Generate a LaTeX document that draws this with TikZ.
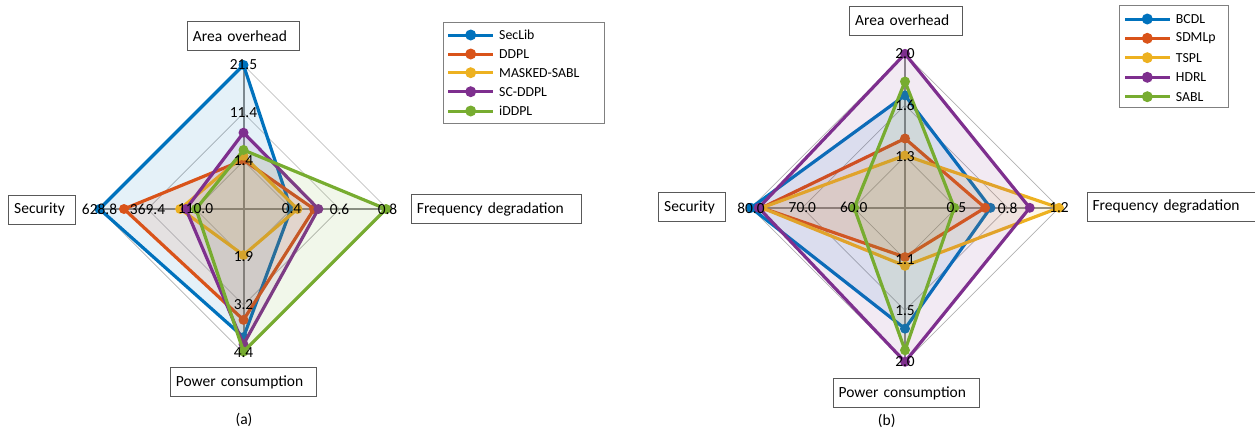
\documentclass[tikz,border=0pt]{standalone}
\usepackage{fontspec}
\setmainfont{Carlito}
\definecolor{serblue}{RGB}{0, 114, 189}
\definecolor{serorange}{RGB}{217, 83, 25}
\definecolor{seryellow}{RGB}{237, 177, 32}
\definecolor{serpurple}{RGB}{126, 47, 142}
\definecolor{sergreen}{RGB}{119, 172, 48}
\usetikzlibrary{positioning}

% rings at 1/3, 2/3 and 1, plus the two axes
\newcommand{\spidergrid}{%
  \draw[ring] (0,1/3) -- (1/3,0) -- (0,-1/3) -- (-1/3,0) -- cycle;
  \draw[ring] (0,2/3) -- (2/3,0) -- (0,-2/3) -- (-2/3,0) -- cycle;
  \draw[ring] (0,1) -- (1,0) -- (0,-1) -- (-1,0) -- cycle;
  \draw[spoke] (0,1) -- (0,-1);
  \draw[spoke] (-1,0) -- (1,0);
}
% colour, area, frequency, power, security
\newcommand{\spiderserie}[5]{%
  \filldraw[serie, draw=#1, fill=#1] (0,#2) -- (#3,0) -- (0,-#4) -- (-#5,0) -- cycle;
  \fill[#1] (0,#2) circle (5pt) (#3,0) circle (5pt) (0,-#4) circle (5pt) (-#5,0) circle (5pt);
}

\begin{document}
\begin{tikzpicture}[
  x=1pt, y=-1pt,
  ring/.style={draw=black!30, line width=0.7pt},
  spoke/.style={draw=black!45, line width=2pt},
  serie/.style={line width=3.2pt, fill opacity=0.1, draw opacity=1},
  tick/.style={inner sep=0pt, font=\fontsize{15.4}{18}\selectfont},
  axbox/.style={draw=black!65, line width=0.8pt, anchor=west, align=left, minimum height=29pt, inner xsep=5.5pt, font=\fontsize{15.5}{18}\selectfont},
  legbox/.style={draw=black!50, line width=0.8pt, anchor=north west},
  legline/.style={line width=3pt},
  legtext/.style={anchor=west, inner sep=0pt, font=\fontsize{13.8}{16}\selectfont},
  caption/.style={font=\fontsize{15.5}{18}\selectfont}
]
  \useasboundingbox (0,0) rectangle (1255,432);

  % (a)
  \begin{scope}[shift={(243.5,209)}, x=144pt, y=144pt]
    \spidergrid
    \spiderserie{serblue}{1.00}{0.33}{0.89}{1.00}
    \spiderserie{serorange}{0.34}{0.49}{0.77}{0.83}
    \spiderserie{seryellow}{0.37}{0.375}{0.32}{0.44}
    \spiderserie{serpurple}{0.53}{0.52}{0.94}{0.40}
    \spiderserie{sergreen}{0.41}{0.99}{0.99}{0.33}
    \node[tick] (a-area1) at (0,1/3) {1.4};
    \node[tick] (a-area2) at (0,2/3) {11.4};
    \node[tick] (a-area3) at (0,1) {21.5};
    \node[tick] (a-freq1) at (1/3,0) {0.4};
    \node[tick] (a-freq2) at (2/3,0) {0.6};
    \node[tick] (a-freq3) at (1,0) {0.8};
    \node[tick] (a-pow1) at (0,-1/3) {1.9};
    \node[tick] (a-pow2) at (0,-2/3) {3.2};
    \node[tick] (a-pow3) at (0,-1) {4.4};
    \node[tick] (a-sec1) at (-1/3,0) {110.0};
    \node[tick] (a-sec2) at (-2/3,0) {369.4};
    \node[tick] (a-sec3) at (-1,0) {628.8};
  \end{scope}
  \node[axbox, text width=101pt] (a-area) at (187,36.3) {Area overhead};
  \node[axbox, text width=56pt] (a-sec) at (8.3,209.5) {Security};
  \node[axbox, text width=135pt] (a-pow) at (170,382.2) {Power consumption};
  \node[axbox, text width=159pt] (a-freq) at (411,209.2) {Frequency degradation};
  \node[caption] (cap-a) at (244,420) {(a)};

  \node[legbox, minimum width=161pt, minimum height=101pt] (leg-a) at (442.7,21.7) {};
  \draw[legline, serblue] (448,35) -- (493,35);
  \fill[serblue] (470.7,35) circle (5.5pt);
  \node[legtext] (leg-a1) at (499,35) {SecLib};
  \draw[legline, serorange] (448,54) -- (493,54);
  \fill[serorange] (470.7,54) circle (5.5pt);
  \node[legtext] (leg-a2) at (499,54) {DDPL};
  \draw[legline, seryellow] (448,72.7) -- (493,72.7);
  \fill[seryellow] (470.7,72.7) circle (5.5pt);
  \node[legtext] (leg-a3) at (499,72.7) {MASKED-SABL};
  \draw[legline, serpurple] (448,91.7) -- (493,91.7);
  \fill[serpurple] (470.7,91.7) circle (5.5pt);
  \node[legtext] (leg-a4) at (499,91.7) {SC-DDPL};
  \draw[legline, sergreen] (448,111) -- (493,111);
  \fill[sergreen] (470.7,111) circle (5.5pt);
  \node[legtext] (leg-a5) at (499,111) {iDDPL};

  % (b)
  \begin{scope}[shift={(905,207.8)}, x=154pt, y=154pt]
    \spidergrid
    \spiderserie{serblue}{0.73}{0.555}{0.785}{1.00}
    \spiderserie{serorange}{0.45}{0.52}{0.32}{0.93}
    \spiderserie{seryellow}{0.34}{1.00}{0.377}{0.93}
    \spiderserie{serpurple}{1.00}{0.81}{1.00}{0.95}
    \spiderserie{sergreen}{0.82}{0.32}{0.925}{0.33}
    \node[tick] (b-area1) at (0,1/3) {1.3};
    \node[tick] (b-area2) at (0,2/3) {1.6};
    \node[tick] (b-area3) at (0,1) {2.0};
    \node[tick] (b-freq1) at (1/3,0) {0.5};
    \node[tick] (b-freq2) at (2/3,0) {0.8};
    \node[tick] (b-freq3) at (1,0) {1.2};
    \node[tick] (b-pow1) at (0,-1/3) {1.1};
    \node[tick] (b-pow2) at (0,-2/3) {1.5};
    \node[tick] (b-pow3) at (0,-1) {2.0};
    \node[tick] (b-sec1) at (-1/3,0) {60.0};
    \node[tick] (b-sec2) at (-2/3,0) {70.0};
    \node[tick] (b-sec3) at (-1,0) {80.0};
  \end{scope}
  \node[axbox, text width=102pt] (b-area) at (849.3,20.5) {Area overhead};
  \node[axbox, text width=56pt] (b-sec) at (658.3,207.2) {Security};
  \node[axbox, text width=135.6pt] (b-pow) at (832.7,393.3) {Power consumption};
  \node[axbox, text width=159pt] (b-freq) at (1086.7,206.7) {Frequency degradation};
  \node[caption] (cap-b) at (886.7,421) {(b)};

  \node[legbox, minimum width=108.4pt, minimum height=101.7pt] (leg-b) at (1119.3,5) {};
  \draw[legline, serblue] (1125,19) -- (1170,19);
  \fill[serblue] (1147.3,19) circle (5.5pt);
  \node[legtext] (leg-b1) at (1175.7,19) {BCDL};
  \draw[legline, serorange] (1125,38.3) -- (1170,38.3);
  \fill[serorange] (1147.3,38.3) circle (5.5pt);
  \node[legtext] (leg-b2) at (1175.7,38.3) {SDMLp};
  \draw[legline, seryellow] (1125,57.7) -- (1170,57.7);
  \fill[seryellow] (1147.3,57.7) circle (5.5pt);
  \node[legtext] (leg-b3) at (1175.7,57.7) {TSPL};
  \draw[legline, serpurple] (1125,77.3) -- (1170,77.3);
  \fill[serpurple] (1147.3,77.3) circle (5.5pt);
  \node[legtext] (leg-b4) at (1175.7,77.3) {HDRL};
  \draw[legline, sergreen] (1125,96.7) -- (1170,96.7);
  \fill[sergreen] (1147.3,96.7) circle (5.5pt);
  \node[legtext] (leg-b5) at (1175.7,96.7) {SABL};
\end{tikzpicture}
\end{document}
